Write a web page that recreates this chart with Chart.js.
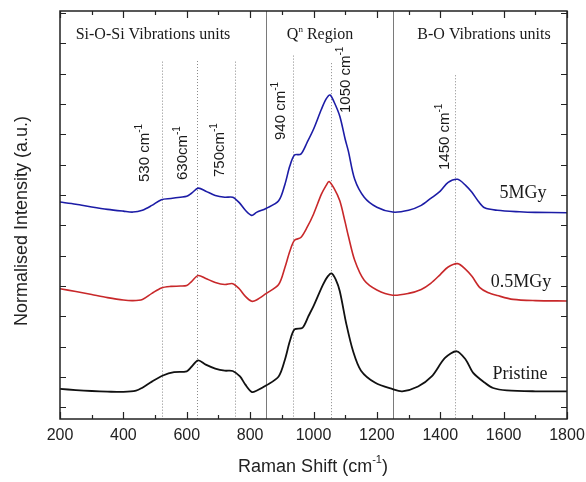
<!DOCTYPE html>
<html>
<head>
<meta charset="utf-8">
<script src="https://cdn.jsdelivr.net/npm/chart.js@4.4.0/dist/chart.umd.min.js"></script>
<style>
html, body { margin: 0; padding: 0; background: #fff; }
</style>
</head>
<body>
<canvas id="ramanChart" width="586" height="482"></canvas>
<script>
/*---- spectra ----*/
var mgy5X = [200,250,300,350,400,430,460,490,520,550,580,600,615,636,660,690,720,745,765,785,805,820,850,890,910,925,940,960,980,1000,1025,1040,1052,1065,1083,1100,1110,1130,1160,1200,1250,1300,1340,1370,1400,1425,1455,1480,1500,1520,1540,1580,1650,1700,1800];
var mgy5Y = [6.77,6.70,6.61,6.53,6.47,6.44,6.50,6.66,6.85,6.89,6.93,6.96,7.06,7.23,7.13,6.99,6.93,6.93,6.76,6.50,6.33,6.43,6.56,6.81,7.36,7.95,8.32,8.35,8.74,9.17,9.83,10.17,10.30,10.07,9.60,8.84,8.45,7.52,6.93,6.60,6.44,6.50,6.66,6.89,7.13,7.42,7.52,7.32,7.09,6.80,6.58,6.50,6.45,6.43,6.42];

var mgy05X = [200,250,300,350,400,430,460,490,520,550,580,600,615,636,660,690,720,745,765,785,805,820,850,890,910,925,940,960,980,1000,1025,1040,1049,1065,1083,1100,1110,1130,1160,1200,1250,1300,1340,1370,1400,1425,1455,1480,1500,1525,1550,1580,1630,1700,1800];
var mgy05Y = [3.91,3.82,3.72,3.62,3.54,3.52,3.56,3.76,3.94,3.99,4.00,4.02,4.15,4.35,4.25,4.12,4.05,4.08,3.92,3.66,3.50,3.54,3.75,4.05,4.62,5.14,5.51,5.60,5.94,6.37,7.03,7.32,7.45,7.22,6.81,6.10,5.65,4.85,4.19,3.87,3.70,3.76,3.89,4.09,4.38,4.63,4.74,4.55,4.32,3.95,3.79,3.69,3.56,3.52,3.51];

var pristineX = [200,250,300,350,400,440,460,490,525,560,600,615,636,660,690,720,745,768,785,805,820,850,890,910,925,940,965,985,1000,1030,1045,1057,1070,1083,1104,1125,1150,1195,1250,1280,1330,1373,1415,1452,1480,1504,1540,1567,1610,1700,1800];
var pristineY = [0.61,0.57,0.54,0.52,0.51,0.55,0.65,0.85,1.05,1.16,1.19,1.34,1.55,1.41,1.28,1.21,1.20,1.02,0.75,0.51,0.55,0.72,1.02,1.58,2.17,2.57,2.62,3.03,3.34,4.05,4.32,4.42,4.22,3.83,2.73,1.85,1.21,0.81,0.60,0.53,0.69,1.02,1.63,1.85,1.58,1.14,0.82,0.64,0.56,0.53,0.53];

var xTicks = [200,400,600,800,1000,1200,1400,1600,1800];
var xMinorTicks = [300,500,700,900,1100,1300,1500,1700];
var yTicks = [0,1,2,3,4,5,6,7,8,9,10,11,12,13];

var regionLines = [850,1250];
var bandLines = [522,633,752,936,1055,1447];
var bandTops = [11.4,11.42,11.4,11.6,11.35,10.95];
var bandNames = ['530 cm','630cm','750cm','940 cm','1050 cm','1450 cm'];

var SERIF = '"Liberation Serif", "Times New Roman", serif';
var SANS = '"Liberation Sans", Arial, sans-serif';

function pts(xs, ys) {
	return xs.map(function (x, i) { return { x: x, y: ys[i] }; });
}

// draws pieces of text one after the other (for superscripts)
function richText(c, parts, x, y, align) {
	var w = 0;
	parts.forEach(function (p) { c.font = p.font; p.w = c.measureText(p.text).width; w += p.w; });
	var cx = align === 'center' ? x - w / 2 : x;
	c.textAlign = 'left';
	c.textBaseline = 'middle';
	parts.forEach(function (p) {
		c.font = p.font;
		c.fillText(p.text, cx, y + (p.dy || 0));
		cx += p.w;
	});
}

/*---- frame, ticks, marker lines and labels ----*/
var ramanDecor = {
	id: 'ramanDecor',
	beforeDatasetsDraw: function (chart) {
		var c = chart.ctx, a = chart.chartArea, xs = chart.scales.x, ys = chart.scales.y;
		c.save();
		c.strokeStyle = '#7a7a7a';
		c.lineWidth = 1;
		regionLines.forEach(function (v) {
			var px = Math.round(xs.getPixelForValue(v)) + 0.5;
			c.beginPath(); c.moveTo(px, a.top); c.lineTo(px, a.bottom); c.stroke();
		});
		c.strokeStyle = '#888';
		c.setLineDash([1, 2]);
		bandLines.forEach(function (v, i) {
			var px = Math.round(xs.getPixelForValue(v)) + 0.5;
			c.beginPath(); c.moveTo(px, ys.getPixelForValue(bandTops[i])); c.lineTo(px, a.bottom); c.stroke();
		});
		c.setLineDash([]);

		c.fillStyle = '#1a1a1a';
		richText(c, [{ text: 'Si-O-Si Vibrations units', font: '16px ' + SERIF }], 153, 35, 'center');
		richText(c, [{ text: 'Q', font: '16px ' + SERIF }, { text: 'n', font: '9px ' + SERIF, dy: -5 }, { text: ' Region', font: '16px ' + SERIF }], 320, 35, 'center');
		richText(c, [{ text: 'B-O Vibrations units', font: '16px ' + SERIF }], 484, 35, 'center');

		// rotated band labels (bottom end of each text)
		var spots = [[145,182],[183,180],[220,177],[281,140],[346,113],[445,170]];
		bandNames.forEach(function (t, i) {
			c.save();
			c.translate(spots[i][0], spots[i][1]);
			c.rotate(-Math.PI / 2);
			richText(c, [{ text: t, font: '15px ' + SANS }, { text: '-1', font: '10px ' + SANS, dy: -6 }], 0, 0, 'left');
			c.restore();
		});

		richText(c, [{ text: '5MGy', font: '18px ' + SERIF }], 523, 193, 'center');
		richText(c, [{ text: '0.5MGy', font: '18px ' + SERIF }], 521, 282, 'center');
		richText(c, [{ text: 'Pristine', font: '18px ' + SERIF }], 520, 374, 'center');
		c.restore();
	},
	afterDraw: function (chart) {
		var c = chart.ctx, a = chart.chartArea, xs = chart.scales.x, ys = chart.scales.y;
		c.save();
		c.strokeStyle = '#222';
		c.lineWidth = 1.5;
		c.strokeRect(a.left, a.top, a.right - a.left, a.bottom - a.top);

		c.lineWidth = 1.2;
		c.beginPath();
		xTicks.concat(xMinorTicks).forEach(function (v) {
			var len = xTicks.indexOf(v) >= 0 ? 7 : 4;
			var px = Math.round(xs.getPixelForValue(v)) + 0.5;
			c.moveTo(px, a.bottom); c.lineTo(px, a.bottom - len);
			c.moveTo(px, a.top); c.lineTo(px, a.top + len);
		});
		yTicks.forEach(function (v) {
			var py = Math.round(ys.getPixelForValue(v)) + 0.5;
			c.moveTo(a.left, py); c.lineTo(a.left + 6, py);
			c.moveTo(a.right, py); c.lineTo(a.right - 6, py);
		});
		c.stroke();

		c.fillStyle = '#222';
		xTicks.forEach(function (v) {
			richText(c, [{ text: String(v), font: '16px ' + SANS }], xs.getPixelForValue(v), 436, 'center');
		});

		richText(c, [{ text: 'Raman Shift (cm', font: '18px ' + SANS }, { text: '-1', font: '11px ' + SANS, dy: -7 }, { text: ')', font: '18px ' + SANS }], 313, 467, 'center');

		c.translate(22, 221);
		c.rotate(-Math.PI / 2);
		richText(c, [{ text: 'Normalised Intensity (a.u.)', font: '18px ' + SANS }], 0, 0, 'center');
		c.restore();
	}
};

var ctx = document.getElementById('ramanChart').getContext('2d');
var ramanChart = new Chart(ctx, {
	type: 'line',
	data: {
		datasets: [
			{ label: '5MGy', data: pts(mgy5X, mgy5Y), borderColor: '#1c1ca6', borderWidth: 1.6 },
			{ label: '0.5MGy', data: pts(mgy05X, mgy05Y), borderColor: '#c8282a', borderWidth: 1.6 },
			{ label: 'Pristine', data: pts(pristineX, pristineY), borderColor: '#111', borderWidth: 1.8 }
		]
	},
	options: {
		responsive: false,
		animation: false,
		devicePixelRatio: 1,
		layout: { padding: { left: 60, right: 19, top: 11, bottom: 63 } },
		elements: {
			point: { radius: 0 },
			line: { tension: 0.3, fill: false }
		},
		plugins: { legend: { display: false }, tooltip: { enabled: false } },
		scales: {
			x: { type: 'linear', min: 200, max: 1800, display: false },
			y: { type: 'linear', min: -0.383, max: 13.07, display: false }
		}
	},
	plugins: [ramanDecor]
});
</script>
</body>
</html>
